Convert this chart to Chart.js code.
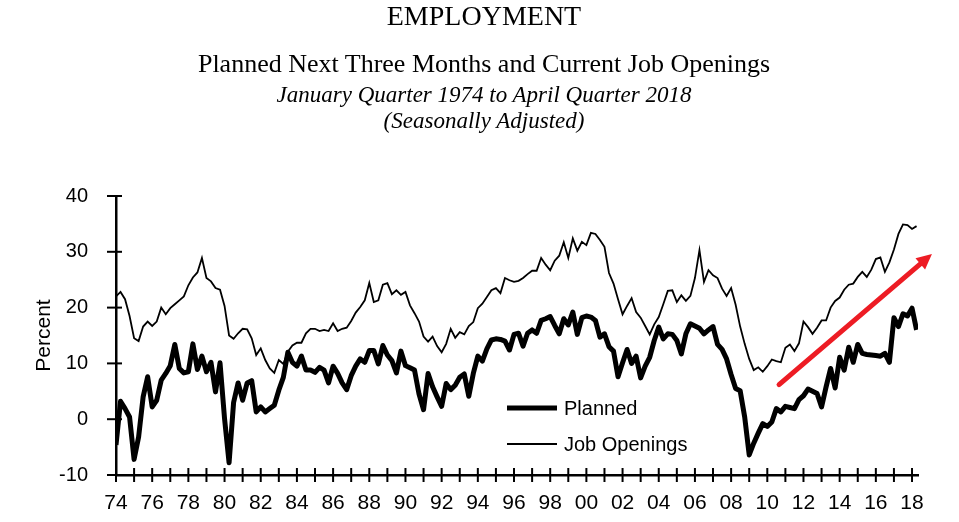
<!DOCTYPE html>
<html>
<head>
<meta charset="utf-8">
<script src="https://cdn.jsdelivr.net/npm/chart.js@4.4.1/dist/chart.umd.min.js"></script>
<style>
  html, body { margin: 0; padding: 0; background: #fff; }
  #wrap { position: relative; width: 959px; height: 522px; overflow: hidden; }
  #wrap canvas { position: absolute; left: 0; top: 0; }
  .hd { position: absolute; left: 0; width: 968px; text-align: center; color: #000;
        font-family: "Liberation Serif", "Times New Roman", serif; line-height: 1; white-space: nowrap; }
  .it { font-style: italic; }
</style>
</head>
<body>
<div id="wrap">
  <canvas id="chart"></canvas>
  <div class="hd" style="top:2px; font-size:28px;">EMPLOYMENT</div>
  <div class="hd" style="top:51px; font-size:26px;">Planned Next Three Months and Current Job Openings</div>
  <div class="hd it" style="top:83px; font-size:23px;">January Quarter 1974 to April Quarter 2018</div>
  <div class="hd it" style="top:109px; font-size:23px;">(Seasonally Adjusted)</div>
</div>
<script>
// quarterly readings, Jan 1974 .. Apr 2018
const startYear = 1974;
const planned = [
  -4.6, 3.2, 1.9, 0.4, -7.2, -3.2, 4.0, 7.6, 2.2, 3.4,
  7.0, 8.2, 9.6, 13.4, 9.1, 8.3, 8.5, 13.5, 8.9, 11.3,
  8.5, 10.2, 4.9, 10.1, 0.1, -7.8, 3.0, 6.5, 3.4, 6.5,
  6.9, 1.3, 2.2, 1.3, 1.9, 2.5, 5.2, 7.5, 12.0, 10.2,
  9.5, 11.3, 8.8, 8.8, 8.4, 9.3, 8.8, 6.5, 9.5, 8.2,
  6.5, 5.3, 7.8, 9.5, 10.8, 10.2, 12.3, 12.3, 9.9, 13.2,
  11.5, 10.5, 8.3, 12.2, 9.6, 9.2, 8.8, 4.5, 1.7, 8.2,
  5.8, 4.0, 2.3, 6.4, 5.3, 6.1, 7.5, 8.1, 4.1, 8.2,
  11.3, 10.4, 12.6, 14.2, 14.4, 14.3, 14.0, 12.4, 15.2, 15.4,
  13.1, 15.4, 16.0, 15.4, 17.7, 18.0, 18.4, 16.8, 15.3, 18.0,
  16.9, 19.2, 15.2, 18.2, 18.5, 18.3, 17.7, 14.7, 15.3, 13.0,
  12.2, 7.6, 10.1, 12.5, 10.0, 11.3, 7.4, 9.5, 11.1, 14.1,
  16.5, 14.4, 15.3, 15.2, 14.1, 11.7, 15.3, 17.1, 16.7, 16.3,
  15.3, 16.0, 16.6, 13.4, 12.5, 10.8, 8.0, 5.5, 5.1, 0.4,
  -6.4, -4.3, -2.5, -0.8, -1.3, -0.5, 1.9, 1.3, 2.3, 2.1,
  1.9, 3.5, 4.2, 5.4, 5.0, 4.6, 2.2, 5.8, 9.1, 5.6,
  11.1, 8.8, 12.9, 10.2, 13.4, 11.8, 11.6, 11.5, 11.4, 11.3,
  11.8, 10.2, 18.2, 16.6, 18.9, 18.5, 19.9, 16.0
];
const jobOpenings = [
  22.0, 22.8, 21.5, 18.5, 14.5, 14.0, 16.6, 17.5, 16.7, 17.5,
  20.0, 18.8, 19.9, 20.6, 21.3, 22.0, 24.0, 25.4, 26.3, 28.9,
  25.3, 24.7, 23.5, 23.2, 20.3, 15.0, 14.4, 15.4, 16.2, 16.1,
  14.5, 11.5, 12.7, 10.6, 9.1, 8.3, 10.6, 9.9, 12.1, 13.2,
  13.7, 13.7, 15.4, 16.2, 16.2, 15.8, 16.0, 15.8, 17.2, 15.8,
  16.2, 16.4, 17.6, 19.1, 20.1, 21.3, 24.4, 21.0, 21.3, 24.1,
  24.4, 22.4, 23.1, 22.3, 22.8, 20.4, 19.0, 17.5, 14.8, 13.9,
  14.8, 13.1, 12.0, 13.5, 16.2, 14.6, 15.6, 15.2, 16.7, 17.4,
  19.9, 20.7, 21.9, 23.1, 23.5, 22.6, 25.3, 24.9, 24.6, 24.8,
  25.3, 26.0, 26.6, 26.6, 28.9, 27.7, 26.7, 28.4, 29.3, 31.7,
  28.9, 32.4, 30.2, 31.8, 31.2, 33.4, 33.2, 32.1, 30.9, 26.2,
  24.3, 21.5, 18.8, 20.3, 21.7, 19.2, 18.2, 16.7, 15.2, 17.0,
  18.3, 20.6, 23.0, 23.1, 21.0, 22.2, 21.2, 22.1, 25.3, 30.3,
  24.6, 26.7, 25.8, 25.3, 23.4, 22.1, 23.5, 20.5, 16.6, 13.5,
  10.8, 8.8, 9.3, 8.5, 9.5, 10.7, 10.4, 10.2, 12.8, 13.4,
  12.2, 13.6, 17.5, 16.5, 15.3, 16.4, 17.7, 17.7, 20.0, 21.2,
  21.8, 23.2, 24.1, 24.3, 25.5, 26.4, 25.5, 26.8, 28.7, 29.0,
  26.4, 28.1, 30.4, 33.2, 34.9, 34.8, 34.1, 34.6
];
const quarters = planned.map((_, i) => startYear + i / 4);
const yTicks = [-10, 0, 10, 20, 30, 40];
const seriesNames = ['Planned', 'Job Openings'];
// trend arrow, in data units (year, percent)
const arrowFrom = [2010.65, 6.2];
const arrowTo = [2019.1, 29.6];

const sansFont = '"Liberation Sans", Arial, Helvetica, sans-serif';

// tick marks that cross the axis lines
const axisCrosses = {
  id: 'axisCrosses',
  afterDraw(chart) {
    const { ctx, scales: { x, y } } = chart;
    ctx.save();
    ctx.strokeStyle = '#000';
    ctx.lineWidth = 2;
    x.ticks.forEach(t => {
      const px = x.getPixelForValue(t.value);
      ctx.beginPath();
      ctx.moveTo(px, y.bottom - 7);
      ctx.lineTo(px, y.bottom + 7);
      ctx.stroke();
    });
    y.ticks.forEach(t => {
      const py = y.getPixelForValue(t.value);
      ctx.beginPath();
      ctx.moveTo(x.left - 9, py);
      ctx.lineTo(x.left + 6, py);
      ctx.stroke();
    });
    ctx.restore();
  }
};

// legend inside the plot
const innerLegend = {
  id: 'innerLegend',
  afterDraw(chart) {
    const ctx = chart.ctx;
    const rows = [
      { y: 408, w: chart.data.datasets[0].borderWidth },
      { y: 444, w: chart.data.datasets[1].borderWidth }
    ];
    ctx.save();
    ctx.font = '20px ' + sansFont;
    ctx.textBaseline = 'middle';
    ctx.fillStyle = '#000';
    ctx.strokeStyle = '#000';
    rows.forEach((r, i) => {
      ctx.lineWidth = r.w;
      ctx.beginPath();
      ctx.moveTo(507, r.y);
      ctx.lineTo(557, r.y);
      ctx.stroke();
      ctx.fillText(seriesNames[i], 564, r.y + 1);
    });
    ctx.restore();
  }
};

// red trend arrow
const trendArrow = {
  id: 'trendArrow',
  afterDatasetsDraw(chart) {
    const { ctx, scales: { x, y } } = chart;
    const x0 = x.getPixelForValue(arrowFrom[0]), y0 = y.getPixelForValue(arrowFrom[1]);
    const x1 = x.getPixelForValue(arrowTo[0]), y1 = y.getPixelForValue(arrowTo[1]);
    const ang = Math.atan2(y1 - y0, x1 - x0);
    const head = 17;
    ctx.save();
    ctx.strokeStyle = '#ED1C24';
    ctx.fillStyle = '#ED1C24';
    ctx.lineWidth = 5;
    ctx.lineCap = 'round';
    ctx.beginPath();
    ctx.moveTo(x0, y0);
    ctx.lineTo(x1 - Math.cos(ang) * head * 0.8, y1 - Math.sin(ang) * head * 0.8);
    ctx.stroke();
    ctx.beginPath();
    ctx.moveTo(x1, y1);
    ctx.lineTo(x1 - head * Math.cos(ang - 0.45), y1 - head * Math.sin(ang - 0.45));
    ctx.lineTo(x1 - head * Math.cos(ang + 0.45), y1 - head * Math.sin(ang + 0.45));
    ctx.closePath();
    ctx.fill();
    ctx.restore();
  }
};

new Chart(document.getElementById('chart'), {
  type: 'line',
  data: {
    labels: quarters,
    datasets: [
      {
        label: seriesNames[0],
        data: planned,
        borderColor: '#000',
        borderWidth: 5,
        borderJoinStyle: 'round',
        pointRadius: 0,
        tension: 0,
        fill: false
      },
      {
        label: seriesNames[1],
        data: jobOpenings,
        borderColor: '#000',
        borderWidth: 1.8,
        pointRadius: 0,
        tension: 0,
        fill: false
      }
    ]
  },
  options: {
    responsive: true,
    maintainAspectRatio: false,
    animation: false,
    layout: { padding: { top: 196, right: 41, bottom: 0, left: 0 } },
    plugins: {
      legend: { display: false },
      tooltip: { enabled: false }
    },
    scales: {
      x: {
        type: 'linear',
        min: 1974,
        max: 2018.33,
        afterFit: s => { s.height = 47; },
        grid: { display: false, drawTicks: false },
        border: { display: true, color: '#000', width: 2.5 },
        ticks: {
          stepSize: 1,
          includeBounds: false,
          autoSkip: false,
          maxRotation: 0,
          padding: 16,
          color: '#000',
          font: { family: sansFont, size: 21 },
          callback: v => (v % 2 === 0 ? String(v).slice(2) : '')
        }
      },
      y: {
        min: -10,
        max: 40,
        afterFit: s => { s.width = 116; },
        afterBuildTicks: s => { s.ticks = yTicks.map(v => ({ value: v })); },
        grid: { display: false, drawTicks: false },
        border: { display: true, color: '#000', width: 2.5 },
        ticks: {
          padding: 28,
          color: '#000',
          font: { family: sansFont, size: 20 }
        },
        title: {
          display: true,
          text: 'Percent',
          color: '#000',
          font: { family: sansFont, size: 21 },
          padding: { top: 32, bottom: 0 }
        }
      }
    }
  },
  plugins: [axisCrosses, innerLegend, trendArrow]
});
</script>
</body>
</html>
